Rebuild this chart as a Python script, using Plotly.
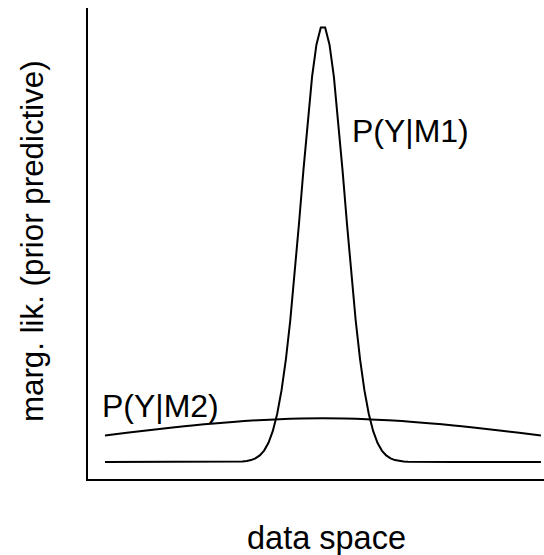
import plotly.graph_objects as go

# Values
m1_x = [-10, -9, -8, -7, -6, -5, -4.5,
        -3.9, -3.7, -3.5, -3.3, -3.1, -2.9, -2.7, -2.5, -2.3, -2.1,
        -1.9, -1.7, -1.5, -1.3, -1.1, -0.9, -0.7, -0.5, -0.3, -0.1,
        0.1, 0.3, 0.5, 0.7, 0.9, 1.1, 1.3, 1.5, 1.7, 1.9,
        2.1, 2.3, 2.5, 2.7, 2.9, 3.1, 3.3, 3.5, 3.7, 3.9,
        4.5, 5, 6, 7, 8, 9, 10]
m1_y = [0, 0, 0, 0, 0, 0, 0,
        0.0002, 0.0004, 0.0009, 0.0017, 0.0033, 0.0060, 0.0104, 0.0175, 0.0283, 0.0440,
        0.0656, 0.0940, 0.1295, 0.1714, 0.2179, 0.2661, 0.3123, 0.3521, 0.3814, 0.3970,
        0.3970, 0.3814, 0.3521, 0.3123, 0.2661, 0.2179, 0.1714, 0.1295, 0.0940, 0.0656,
        0.0440, 0.0283, 0.0175, 0.0104, 0.0060, 0.0033, 0.0017, 0.0009, 0.0004, 0.0002,
        0, 0, 0, 0, 0, 0, 0]

m2_x = [-10, -9, -8, -7, -6, -5, -4, -3, -2, -1, 0, 1, 2, 3, 4, 5, 6, 7, 8, 9, 10]
m2_y = [0.0242, 0.0266, 0.0290, 0.0312, 0.0333, 0.0352, 0.0368, 0.0381, 0.0391, 0.0397,
        0.0399, 0.0397, 0.0391, 0.0381, 0.0368, 0.0352, 0.0333, 0.0312, 0.0290, 0.0266, 0.0242]

label_m1 = "P(Y|M1)"
label_m2 = "P(Y|M2)"
x_title = "data space"
y_title = "marg. lik. (prior predictive)"

FONT = "Liberation Sans, Arial, Helvetica, sans-serif"

fig = go.Figure()
fig.add_trace(go.Scatter(x=m1_x, y=m1_y, mode="lines",
                         line=dict(color="black", width=2), hoverinfo="skip"))
fig.add_trace(go.Scatter(x=m2_x, y=m2_y, mode="lines",
                         line=dict(color="black", width=2, shape="spline"), hoverinfo="skip"))

fig.add_annotation(x=1.26, y=0.3028, xref="x", yref="y", text=label_m1, showarrow=False,
                   xanchor="left", yanchor="middle", font=dict(family=FONT, size=32, color="black"))
fig.add_annotation(x=-10.23, y=0.0508, xref="x", yref="y", text=label_m2, showarrow=False,
                   xanchor="left", yanchor="middle", font=dict(family=FONT, size=32, color="black"))
fig.add_annotation(x=0.15, y=-0.125, xref="x", yref="paper", text=x_title, showarrow=False,
                   xanchor="center", yanchor="middle", font=dict(family=FONT, size=32.5, color="black"))
fig.add_annotation(x=-0.123, y=0.505, xref="paper", yref="paper", text=y_title, showarrow=False,
                   textangle=-90, xanchor="center", yanchor="middle",
                   font=dict(family=FONT, size=31.3, color="black"))

fig.update_layout(
    width=544, height=555,
    margin=dict(l=88, r=0, t=8, b=76, pad=0),
    paper_bgcolor="white", plot_bgcolor="white",
    showlegend=False,
    xaxis=dict(range=[-10.78, 10.14], showgrid=False, zeroline=False, showticklabels=False,
               ticks="", showline=True, linecolor="black", linewidth=2, fixedrange=True),
    yaxis=dict(range=[-0.0156, 0.4149], showgrid=False, zeroline=False, showticklabels=False,
               ticks="", showline=True, linecolor="black", linewidth=2, fixedrange=True),
)

fig.write_html("out.html", config={"displayModeBar": False},
               post_script="document.body.style.margin='0';")
